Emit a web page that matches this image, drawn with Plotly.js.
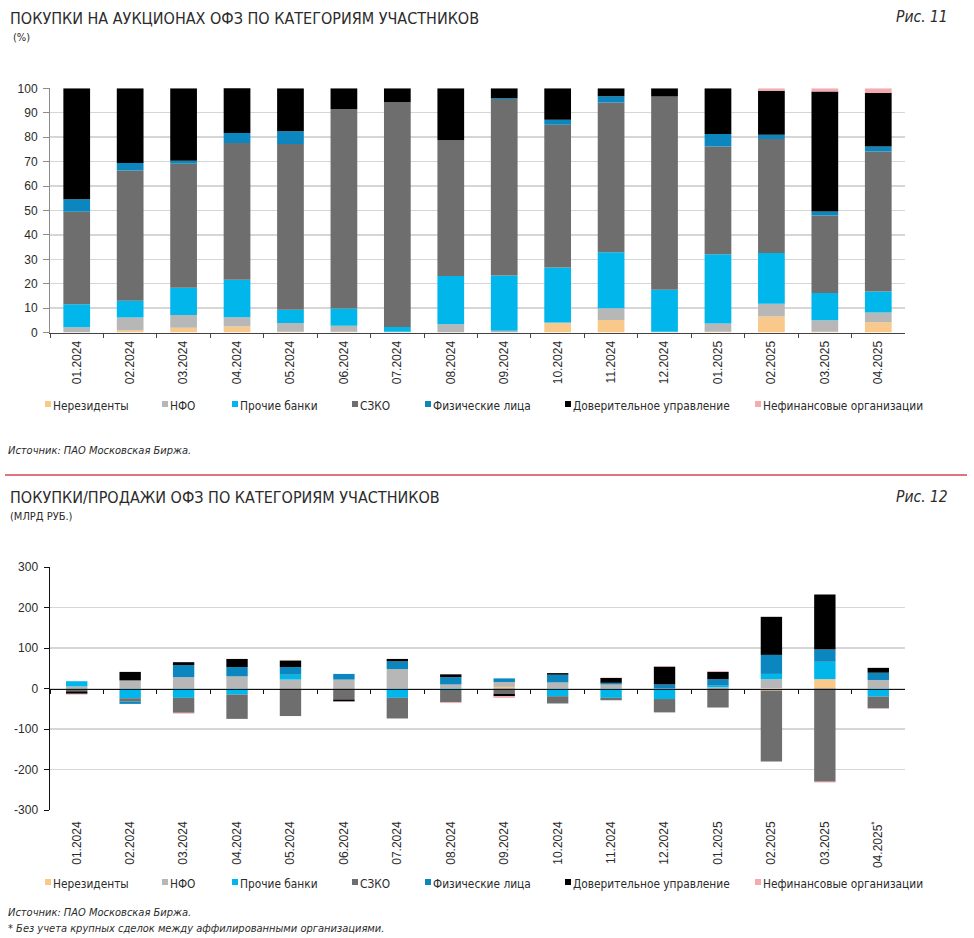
<!DOCTYPE html>
<html><head><meta charset="utf-8">
<script src="https://cdn.plot.ly/plotly-3.0.1.min.js"></script>
<style>html,body{margin:0;padding:0;background:#fff}#chart{width:974px;height:938px}</style>
</head><body><div id="chart"></div>
<script>
// ---------- data ----------
const months = ['01.2024','02.2024','03.2024','04.2024','05.2024','06.2024','07.2024','08.2024','09.2024','10.2024','11.2024','12.2024','01.2025','02.2025','03.2025','04.2025'];
const monthsBottom = ['01.2024','02.2024','03.2024','04.2024','05.2024','06.2024','07.2024','08.2024','09.2024','10.2024','11.2024','12.2024','01.2025','02.2025','03.2025','04.2025<sup>*</sup>'];
const seriesNames = ['Нерезиденты','НФО','Прочие банки','СЗКО','Физические лица','Доверительное управление','Нефинансовые организации'];
const seriesColors = ['#F9C98C','#B7B7B7','#00B6EA','#6E6E6E','#0C86BE','#000000','#F5A9B1'];

// Fig. 11: shares of auction purchases, %
const shareNonres  = [0, 1, 2, 2.5, 0.3, 0.3, 0, 0, 0, 3.8, 5.2, 0, 0.3, 6.6, 0.3, 4.2];
const shareNfo     = [2.2, 5.2, 5.2, 3.8, 3.6, 2.5, 0.3, 3.4, 0.8, 0.3, 4.8, 0.3, 3.4, 5.2, 4.8, 4];
const shareBanks   = [9.4, 6.8, 11.2, 15.3, 5.5, 7.1, 2, 19.8, 22.6, 22.5, 22.9, 17.2, 28.4, 20.8, 11.1, 8.6];
const shareSzko    = [37.9, 53.4, 50.7, 56, 67.8, 81.6, 92.1, 55.5, 72.2, 58.5, 61.3, 79.1, 44.1, 46.6, 31.7, 57.3];
const shareRetail  = [5.1, 3, 1.2, 4.1, 5.2, 0, 0, 0, 0.4, 2, 2.5, 0, 5.1, 1.8, 1.7, 2.1];
const shareTrust   = [45.4, 30.6, 29.7, 18.4, 17.6, 8.5, 5.6, 21.3, 4, 12.9, 3.3, 3.4, 18.7, 18, 49.1, 21.9];
const shareNonfin  = [0, 0, 0, 0, 0, 0, 0, 0, 0, 0, 0, 0, 0, 1, 1.3, 1.9];

// Fig. 12: net purchases/sales, bn RUB
const netNonres = [0, 0, 0, 0, 0, 0, 0, 0, 4, 0, 0, 0, 0, -5, 23, 0];
const netNfo    = [5, 20, 28, 30, 22, 22, 48, 10, 12, 15, 10, 0, 3, 23, 0, 21];
const netBanks  = [13, -24, -23, -15, 12, 0, -23, -3, 0, -19, -23, -26, 4, 13, 43, -20];
const netSzko   = [-7, -8, -37, -60, -68, -27, -51, -31, -13, -18, -6, -33, -47, -175, -230, -29];
const netRetail = [0, -6, 30, 23, 19, 14, 19, 18, 9, 19, 4, 10, 16, 47, 30, 18];
const netTrust  = [-6, 21, 7, 20, 16, -5, 6, 7, -6, 4, 12, 44, 18, 94, 136, 12];
const netNonfin = [-2, 0, -2, 0, 0, -1, 0, -2, -4, 0, 1, 1, 2, 0, -2, -1];

const yTickVals2 = [-300, -200, -100, 0, 100, 200, 300];
const yTickText2 = ['-300', '-200', '-100', '0', '100', '200', '300'];

// ---------- layout helpers ----------
const W = 974, H = 938;
const px = x => x / W, py = y => 1 - y / H;
const NARROW = '"Liberation Sans Narrow", "DejaVu Sans Condensed", "Roboto", sans-serif';
const SANS = '"Liberation Sans", "Roboto", sans-serif';
const TXT = '#2b2b2b';

const topSeries = [shareNonres, shareNfo, shareBanks, shareSzko, shareRetail, shareTrust, shareNonfin];
const botSeries = [netNonres, netNfo, netBanks, netSzko, netRetail, netTrust, netNonfin];

const traces = [];
topSeries.forEach((vals, i) => traces.push({
  type: 'bar', x: months, y: vals, name: seriesNames[i], xaxis: 'x', yaxis: 'y',
  width: 0.5, marker: {color: seriesColors[i]}, showlegend: false, hoverinfo: 'name+y'
}));
botSeries.forEach((vals, i) => traces.push({
  type: 'bar', x: monthsBottom, y: vals, name: seriesNames[i], xaxis: 'x2', yaxis: 'y2',
  width: 0.4, marker: {color: seriesColors[i]}, showlegend: false, hoverinfo: 'name+y'
}));
// invisible helper trace so the zero-line axis (x3) knows the categories
traces.push({type: 'scatter', mode: 'markers', x: monthsBottom, y: monthsBottom.map(() => 0),
  xaxis: 'x3', yaxis: 'y2', marker: {opacity: 0}, showlegend: false, hoverinfo: 'skip'});

const domX = [px(50), px(905)];
const dom1 = [py(332.6), py(88.3)];
const dom2 = [py(810), py(567)];
const zeroPos = dom2[0] + (dom2[1] - dom2[0]) / 2;

const annotations = [];
const shapes = [];
function txt(x, y, text, size, opts) {
  annotations.push(Object.assign({xref: 'paper', yref: 'paper', x: px(x), y: py(y), text: text,
    showarrow: false, xanchor: 'left', yanchor: 'middle',
    font: {family: NARROW, size: size, color: TXT}}, opts || {}));
}
// Titles
txt(8, 18, 'ПОКУПКИ НА АУКЦИОНАХ ОФЗ ПО КАТЕГОРИЯМ УЧАСТНИКОВ', 16);
txt(11, 37, '(%)', 11);
txt(950, 17, '<i>Рис. 11</i>', 15.5, {xanchor: 'right'});
txt(8, 497, 'ПОКУПКИ/ПРОДАЖИ ОФЗ ПО КАТЕГОРИЯМ УЧАСТНИКОВ', 16);
txt(8, 516, '(МЛРД РУБ.)', 11);
txt(950, 497, '<i>Рис. 12</i>', 15.5, {xanchor: 'right'});
// Sources
txt(6, 450, '<i>Источник: ПАО Московская Биржа.</i>', 11);
txt(6, 912, '<i>Источник: ПАО Московская Биржа.</i>', 11);
txt(6, 928, '<i>* Без учета крупных сделок между аффилированными организациями.</i>', 11);
// Separator line
shapes.push({type: 'line', xref: 'paper', yref: 'paper', x0: px(5), x1: px(967), y0: py(475), y1: py(475),
  line: {color: '#E4717F', width: 2}});
// Legends (swatch + label)
const legendX = [45, 162, 232, 352, 425, 565, 755];
[406, 884].forEach(ly => {
  seriesNames.forEach((name, i) => {
    shapes.push({type: 'rect', xref: 'paper', yref: 'paper',
      x0: px(legendX[i]), x1: px(legendX[i] + 6), y0: py(ly + 1), y1: py(ly - 5),
      fillcolor: seriesColors[i], line: {width: 0}});
    txt(legendX[i] + 6, ly, name, 11.8);
  });
});

const layout = {
  width: W, height: H, margin: {l: 0, r: 0, t: 0, b: 0},
  paper_bgcolor: '#fff', plot_bgcolor: 'rgba(0,0,0,0)',
  barmode: 'relative', showlegend: false,
  font: {family: SANS, color: TXT},
  xaxis: {domain: domX, anchor: 'y', type: 'category', range: [-0.5, 15.5],
    tickangle: -90, ticks: 'outside', tickson: 'boundaries', ticklen: 4, tickcolor: '#444',
    showline: true, linecolor: '#444', linewidth: 1.5, showgrid: false,
    tickfont: {family: SANS, size: 12, color: TXT}, ticklabelstandoff: 2, fixedrange: true},
  yaxis: {domain: dom1, anchor: 'x', range: [0, 100], dtick: 10,
    showgrid: true, gridcolor: '#D6D6D6', gridwidth: 1.5, zeroline: false,
    showline: true, linecolor: '#8C8C8C', linewidth: 1, ticks: 'outside', ticklen: 6, tickcolor: '#8C8C8C',
    tickfont: {family: SANS, size: 12, color: TXT}, ticklabelstandoff: 3, fixedrange: true},
  xaxis2: {domain: domX, anchor: 'y2', type: 'category', range: [-0.5, 15.5],
    tickangle: -90, ticks: '', showline: false, showgrid: false,
    tickfont: {family: SANS, size: 12, color: TXT}, ticklabelstandoff: 8, fixedrange: true},
  xaxis3: {domain: domX, overlaying: 'x2', anchor: 'free', position: zeroPos, type: 'category',
    range: [-0.5, 15.5], showticklabels: false, ticks: 'outside', tickson: 'boundaries', ticklen: 4,
    tickcolor: '#111', showline: true, linecolor: '#111', linewidth: 1.5, showgrid: false, fixedrange: true},
  yaxis2: {domain: dom2, anchor: 'x2', range: [-300, 300], tickvals: yTickVals2, ticktext: yTickText2,
    showgrid: true, gridcolor: '#D6D6D6', gridwidth: 1.5, zeroline: false,
    showline: true, linecolor: '#111', linewidth: 1.5, ticks: 'outside', ticklen: 5, tickcolor: '#111',
    tickfont: {family: SANS, size: 12, color: TXT}, ticklabelstandoff: 3, fixedrange: true},
  annotations: annotations,
  shapes: shapes
};

Plotly.newPlot('chart', traces, layout, {displayModeBar: false, staticPlot: true});
</script>
</body></html>
